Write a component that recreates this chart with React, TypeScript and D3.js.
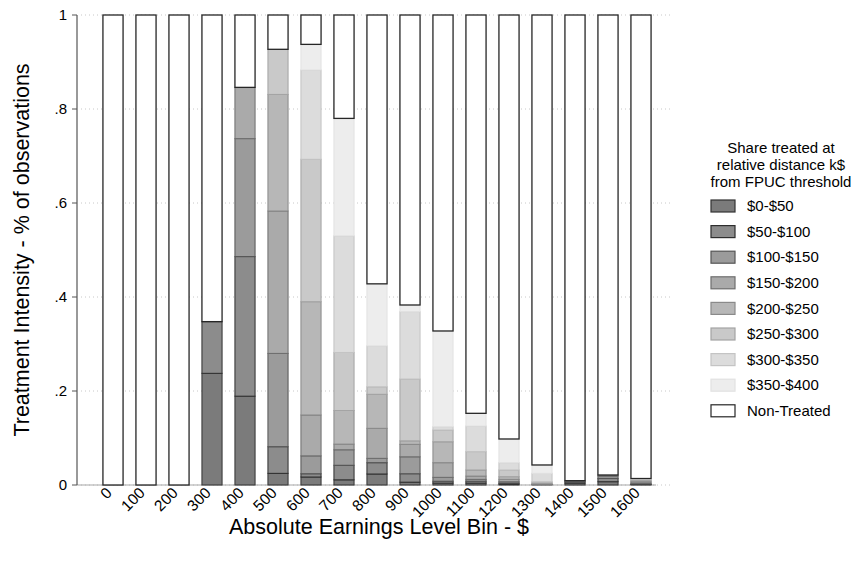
import React from "react";
import * as d3 from "d3";

// Earnings bins ($)
const bins = ["0", "100", "200", "300", "400", "500", "600", "700", "800", "900", "1000", "1100", "1200", "1300", "1400", "1500", "1600"];

// Share treated at each relative distance from the FPUC threshold, per bin
const d0_50 = [0, 0, 0, 0.2376, 0.189, 0.0248, 0.017, 0.011, 0.0234, 0.006, 0.004, 0.004, 0.002, 0, 0.004, 0.007, 0.001];
const d50_100 = [0, 0, 0, 0.11, 0.297, 0.0567, 0.007, 0.031, 0.0241, 0.018, 0.004, 0.004, 0.002, 0, 0.003, 0.007, 0.001];
const d100_150 = [0, 0, 0, 0, 0.251, 0.1985, 0.038, 0.033, 0.0092, 0.036, 0.0083, 0.004, 0.003, 0.001, 0.0015, 0.005, 0.002];
const d150_200 = [0, 0, 0, 0, 0.109, 0.303, 0.087, 0.012, 0.0639, 0.0265, 0.0312, 0.007, 0.005, 0.001, 0.0007, 0.0023, 0.003];
const d200_250 = [0, 0, 0, 0, 0, 0.248, 0.241, 0.0715, 0.0724, 0.0075, 0.0445, 0.013, 0.0057, 0.002, 0, 0, 0.003];
const d250_300 = [0, 0, 0, 0, 0, 0.096, 0.303, 0.1235, 0.016, 0.1315, 0.025, 0.039, 0.0143, 0.003, 0, 0, 0.002];
const d300_350 = [0, 0, 0, 0, 0, 0, 0.19, 0.248, 0.087, 0.1435, 0.007, 0.0545, 0.0155, 0.0178, 0, 0, 0.001];
const d350_400 = [0, 0, 0, 0, 0, 0, 0.0545, 0.25, 0.132, 0.014, 0.2037, 0.027, 0.0504, 0.0178, 0, 0, 0.0008];
const nonTreated = [1, 1, 1, 0.6524, 0.154, 0.073, 0.0625, 0.22, 0.572, 0.617, 0.6723, 0.8475, 0.9021, 0.9574, 0.9908, 0.9787, 0.9862];

const seriesLabels = ["$0-$50", "$50-$100", "$100-$150", "$150-$200", "$200-$250", "$250-$300", "$300-$350", "$350-$400", "Non-Treated"];
const yTicks = [0, 0.2, 0.4, 0.6, 0.8, 1];
const yTickLabels = ["0", ".2", ".4", ".6", ".8", "1"];

const seriesValues = [d0_50, d50_100, d100_150, d150_200, d200_250, d250_300, d300_350, d350_400, nonTreated];
const keys = seriesValues.map((_, i) => `k${i}`);

const fills = ["#7b7b7b", "#8c8c8c", "#9b9b9b", "#aaaaaa", "#b7b7b7", "#c9c9c9", "#dcdcdc", "#ededed", "#ffffff"];
const strokes = ["#333333", "#2e2e2e", "#555555", "#6e6e6e", "#8a8a8a", "#a4a4a4", "#c4c4c4", "#e2e2e2", "#262626"];

const W = 862;
const H = 561;
const FONT = "'Liberation Sans', Arial, Helvetica, sans-serif";

const plot = { left: 77, right: 673, top: 15, bottom: 485 };

export default function App() {
  const rows = bins.map((b, i) => {
    const r: Record<string, any> = { bin: b };
    keys.forEach((k, j) => (r[k] = seriesValues[j][i]));
    return r;
  });
  const stacked = d3.stack<any>().keys(keys)(rows);

  const x = d3
    .scaleBand<string>()
    .domain(bins)
    .range([96.5, 657.5])
    .paddingInner(0.39)
    .paddingOuter(0.195);
  const y = d3.scaleLinear().domain([0, 1]).range([plot.bottom, plot.top]);

  const legendItemY = (i: number) => 206 + i * 25.6;

  return (
    <svg width={W} height={H} style={{ display: "block", position: "absolute", left: 0, top: 0, background: "#fff" }} fontFamily={FONT}>
      <rect x={0} y={0} width={W} height={H} fill="#fff" />

      {/* horizontal dotted gridlines */}
      {yTicks.map((t) => (
        <line key={`g${t}`} x1={plot.left + 4} x2={plot.right} y1={y(t)} y2={y(t)} stroke="#c8c8c8" strokeWidth={1} strokeDasharray="1 3" />
      ))}

      {/* baseline */}
      <line x1={plot.left} x2={x("1600")! + x.bandwidth() + 5} y1={y(0)} y2={y(0)} stroke="#a8a8a8" strokeWidth={1.2} />

      {/* stacked bars */}
      {stacked.map((s, si) => (
        <g key={s.key}>
          {s.map((d, i) => {
            const h = y(d[0]) - y(d[1]);
            if (h <= 0.05) return null;
            return (
              <rect
                key={i}
                x={x(bins[i])!}
                y={y(d[1])}
                width={x.bandwidth()}
                height={h}
                fill={fills[si]}
                stroke={strokes[si]}
                strokeWidth={si === 8 ? 1.3 : 1}
              />
            );
          })}
        </g>
      ))}

      {/* y axis */}
      <line x1={plot.left} x2={plot.left} y1={plot.top} y2={plot.bottom} stroke="#555" strokeWidth={1.2} />
      {yTicks.map((t, i) => (
        <g key={`yt${t}`}>
          <line x1={plot.left - 5} x2={plot.left} y1={y(t)} y2={y(t)} stroke="#555" strokeWidth={1} />
          <text x={plot.left - 10} y={y(t)} dy="0.35em" textAnchor="end" fontSize={15} fill="#000">
            {yTickLabels[i]}
          </text>
        </g>
      ))}

      {/* x tick labels */}
      {bins.map((b) => {
        const cx = x(b)! + x.bandwidth() / 2;
        return (
          <text key={`xl${b}`} transform={`translate(${cx - 4},${plot.bottom + 5}) rotate(-45)`} textAnchor="end" dy="0.35em" fontSize={15.5} fill="#000">
            {b}
          </text>
        );
      })}

      {/* axis titles */}
      <text x={(plot.left + plot.right) / 2 + 4} y={534} textAnchor="middle" fontSize={21.5} fill="#000">
        Absolute Earnings Level Bin - $
      </text>
      <text transform={`translate(29,${(plot.top + plot.bottom) / 2}) rotate(-90)`} textAnchor="middle" fontSize={21.5} fill="#000">
        Treatment Intensity - % of observations
      </text>

      {/* legend */}
      <g>
        {["Share treated at", "relative distance k$", "from FPUC threshold"].map((t, i) => (
          <text key={t} x={781} y={148 + i * 16.8} dy="0.35em" textAnchor="middle" fontSize={15} fill="#000">
            {t}
          </text>
        ))}
        {seriesLabels.map((lab, i) => (
          <g key={lab}>
            <rect x={711} y={legendItemY(i) - 6} width={24} height={12} fill={fills[i]} stroke={strokes[i]} strokeWidth={1.2} />
            <text x={747} y={legendItemY(i)} dy="0.35em" fontSize={15} fill="#000">
              {lab}
            </text>
          </g>
        ))}
      </g>
    </svg>
  );
}
